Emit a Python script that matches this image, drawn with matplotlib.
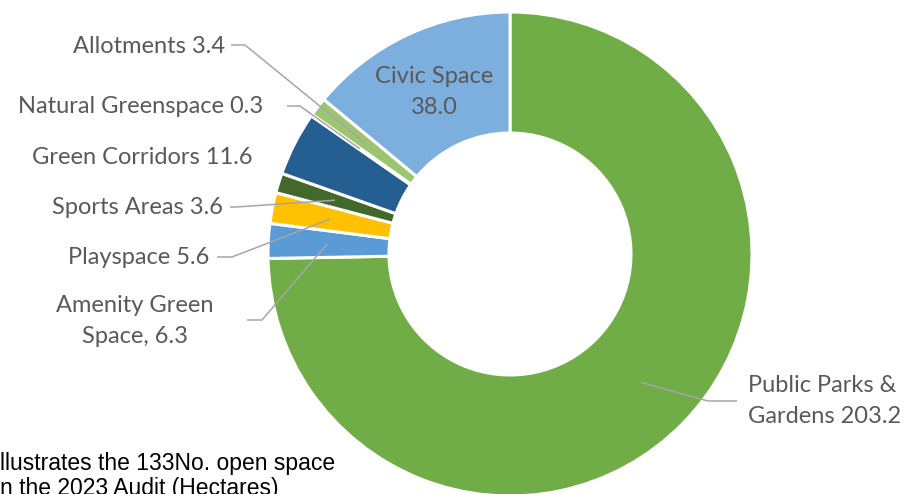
import matplotlib.pyplot as plt
import numpy as np

categories = ["Public Parks & Gardens", "Amenity Green Space", "Playspace", "Sports Areas",
              "Green Corridors", "Natural Greenspace", "Allotments", "Civic Space"]
values = [203.2, 6.3, 5.6, 3.6, 11.6, 0.3, 3.4, 38.0]
labels = ["Public Parks &\nGardens 203.2", "Amenity Green\nSpace, 6.3", "Playspace 5.6",
          "Sports Areas 3.6", "Green Corridors 11.6", "Natural Greenspace 0.3",
          "Allotments 3.4", "Civic Space\n38.0"]
colors = ["#70AD47", "#5B9BD5", "#FFC000", "#43682B", "#255E91", "#C9C9C9", "#9BC66F", "#7CAFDD"]
caption = ["llustrates the 133No. open space", "n the 2023 Audit (Hectares)"]

W, H = 915, 494
fig = plt.figure(figsize=(W / 100, H / 100), dpi=100)
ax = fig.add_axes([0, 0, 1, 1])

cx, cy, R = 510, H - 254, 242
wedges, _ = ax.pie(values, colors=colors, startangle=90, counterclock=False,
                   radius=R, center=(cx, cy),
                   wedgeprops=dict(width=R * 0.5, edgecolor="white", linewidth=2.2))
ax.set_xlim(0, W)
ax.set_ylim(0, H)
ax.set_aspect("equal")
ax.axis("off")

txt_color = "#595959"
fs = 17
font = "Lato"
ls = 1.55

def mid_point(w, frac=0.757):
    a = np.deg2rad((w.theta1 + w.theta2) / 2)
    return cx + frac * R * np.cos(a), cy + frac * R * np.sin(a)

# layout: (text x, text y (from top), ha, line start x, elbow x, line y (from top)) ; None = no leader
layout = {
    0: (748, 401, "left", 737, 708, 401),
    1: (135, 321, "center", 247, 262, 320),
    2: (209, 258, "right", 217, 232, 257),
    3: (223, 208, "right", 230, 236, 207),
    4: (253, 158, "right", None, None, None),
    5: (263, 107, "right", 287, 300, 106),
    6: (225, 47, "right", 231, 245, 45),
}

for i, w in enumerate(wedges):
    if i == 7:
        px, py = mid_point(w, 0.74)
        ax.text(px, py, labels[i], ha="center", va="center", fontsize=fs,
                family=font, color=txt_color, linespacing=ls)
        continue
    tx, ty, ha, lx0, lx1, ly = layout[i]
    ax.text(tx, H - ty, labels[i], ha=ha, va="center", fontsize=fs, family=font,
            color=txt_color, linespacing=ls)
    if lx0 is not None:
        px, py = mid_point(w)
        ax.plot([lx0, lx1, px], [H - ly, H - ly, py], color="#A6A6A6", lw=1.1,
                solid_capstyle="butt", zorder=5)

fig.text(0, 1 - 463 / H, caption[0], ha="left", va="center", fontsize=16.5,
         family="Liberation Sans", color="black")
fig.text(0, 1 - 488 / H, caption[1], ha="left", va="center", fontsize=16.5,
         family="Liberation Sans", color="black")

fig.savefig("out.png", dpi=100)
